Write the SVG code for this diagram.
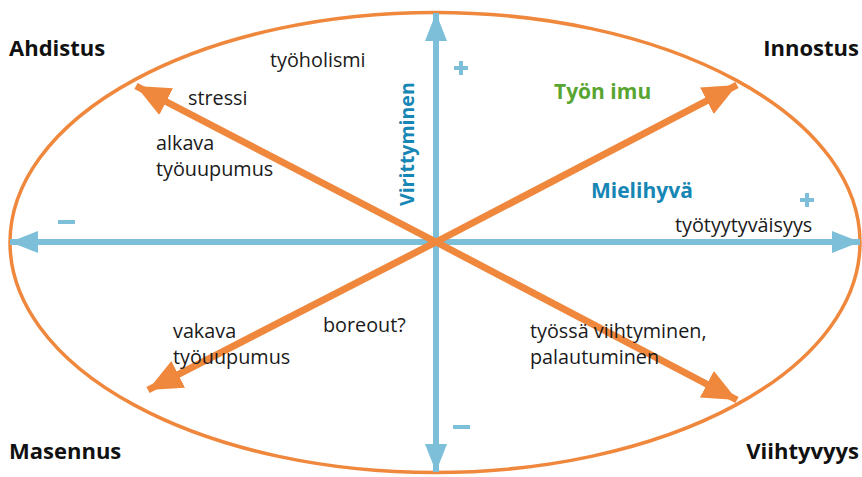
<svg xmlns="http://www.w3.org/2000/svg" width="862" height="477" viewBox="0 0 862 477">
<style>
.lbl{font-family:"Open Sans","Noto Sans",sans-serif;font-size:19.8px;fill:#1a1a1a}
.corner{font-family:"Open Sans","Noto Sans",sans-serif;font-size:22px;font-weight:bold;fill:#111}
.blue{font-family:"Open Sans","Noto Sans",sans-serif;font-size:21px;font-weight:bold;fill:#1686b4}
.vert{font-family:"Open Sans","Noto Sans",sans-serif;font-size:19.5px;font-weight:bold;fill:#1686b4}
.green{font-family:"Open Sans","Noto Sans",sans-serif;font-size:21px;font-weight:bold;fill:#58a531}
.axis{stroke:#7dbfd8;stroke-width:6;fill:none}
.diag{stroke:#ef883d;stroke-width:7;fill:none}
.sign{stroke:#7dbfd8;stroke-width:4}
</style>
<defs>
<marker id="ba" markerUnits="userSpaceOnUse" viewBox="0 0 28 22" refX="28" refY="11" markerWidth="28" markerHeight="22" orient="auto">
<path d="M0,0 L28,11 L0,22 Z" fill="#7dbfd8"/>
</marker>
<marker id="oa" markerUnits="userSpaceOnUse" viewBox="0 0 34 30" refX="34" refY="15" markerWidth="34" markerHeight="30" orient="auto">
<path d="M0,0 L34,15 L0,30 Z" fill="#ef883d"/>
</marker>
</defs>
<ellipse id="frame" cx="435" cy="242.5" rx="425" ry="230" fill="none" stroke="#ef883d" stroke-width="3.5"/>
<g id="connectors">
<line class="axis" x1="436" y1="242" x2="10" y2="242" marker-end="url(#ba)"/>
<line class="axis" x1="436" y1="242" x2="860" y2="242" marker-end="url(#ba)"/>
<line class="axis" x1="436" y1="242" x2="436" y2="13" marker-end="url(#ba)"/>
<line class="axis" x1="436" y1="242" x2="436" y2="472" marker-end="url(#ba)"/>
<line class="diag" x1="436" y1="242" x2="737" y2="85" marker-end="url(#oa)"/>
<line class="diag" x1="436" y1="242" x2="148" y2="390" marker-end="url(#oa)"/>
<line class="diag" x1="436" y1="242" x2="136" y2="86" marker-end="url(#oa)"/>
<line class="diag" x1="436" y1="242" x2="737" y2="400" marker-end="url(#oa)"/>
</g>
<g id="signs">
<line class="sign" x1="454" y1="68" x2="468" y2="68"/><line class="sign" x1="461" y1="61" x2="461" y2="75"/>
<line class="sign" x1="800" y1="200" x2="814" y2="200"/><line class="sign" x1="807" y1="193" x2="807" y2="207"/>
<line class="sign" x1="58" y1="222" x2="75" y2="222"/>
<line class="sign" x1="453" y1="427" x2="470" y2="427"/>
</g>
<g id="corners">
<text class="corner" x="9" y="56">Ahdistus</text>
<text class="corner" x="859" y="56" text-anchor="end">Innostus</text>
<text class="corner" x="9" y="459">Masennus</text>
<text class="corner" x="859" y="459" text-anchor="end">Viihtyvyys</text>
</g>
<g id="labels">
<text class="lbl" x="270" y="67">työholismi</text>
<text class="lbl" x="188" y="105">stressi</text>
<text class="lbl" x="156" y="150">alkava</text>
<text class="lbl" x="156" y="176">työuupumus</text>
<text class="green" x="554" y="99">Työn imu</text>
<text class="blue" x="591" y="198">Mielihyvä</text>
<text class="lbl" x="675" y="232">työtyytyväisyys</text>
<text class="lbl" x="173" y="338">vakava</text>
<text class="lbl" x="173" y="364">työuupumus</text>
<text class="lbl" x="323" y="332">boreout?</text>
<text class="lbl" x="530" y="338">työssä viihtyminen,</text>
<text class="lbl" x="530" y="364">palautuminen</text>
<text class="vert" transform="translate(414,206) rotate(-90)">Virittyminen</text>
</g>
</svg>
